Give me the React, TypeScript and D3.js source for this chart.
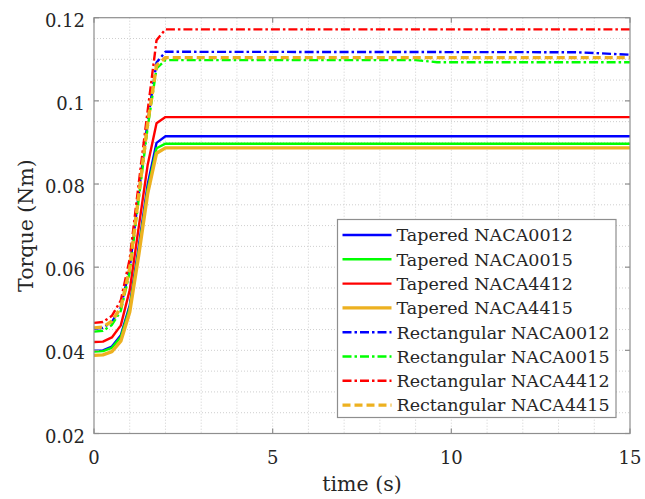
import React from "react";
import * as d3 from "d3";

const W = 645;
const H = 499;

// time samples (s)
const tRise = [0, 0.25, 0.5, 0.75, 1, 1.25, 1.5, 1.75, 2, 15];
const tRectNACA0012 = [0, 0.25, 0.5, 0.75, 1, 1.25, 1.5, 1.75, 2, 13.5, 14.5, 15];
const tRectNACA0015 = [0, 0.25, 0.5, 0.75, 1, 1.25, 1.5, 1.75, 2, 9.0, 9.6, 15];

// torque values (Nm)
const taperedNACA0012 = [0.0399, 0.04, 0.0409, 0.0436, 0.0508, 0.0648, 0.0798, 0.0899, 0.0915, 0.0915];
const taperedNACA0015 = [0.0397, 0.0398, 0.0406, 0.0432, 0.0502, 0.0638, 0.0787, 0.0886, 0.0897, 0.0897];
const taperedNACA4412 = [0.042, 0.0421, 0.0431, 0.046, 0.0545, 0.0695, 0.0845, 0.0946, 0.0961, 0.0961];
const taperedNACA4415 = [0.0388, 0.0389, 0.0397, 0.0422, 0.0492, 0.0628, 0.0776, 0.0874, 0.0887, 0.0887];
const rectNACA0012 = [0.0452, 0.0454, 0.0468, 0.0503, 0.0598, 0.0775, 0.095, 0.1092, 0.1118, 0.1117, 0.1113, 0.1111];
const rectNACA0015 = [0.0445, 0.0447, 0.0461, 0.0495, 0.0588, 0.0763, 0.0935, 0.1078, 0.1098, 0.1098, 0.1093, 0.1093];
const rectNACA4412 = [0.0466, 0.0468, 0.0483, 0.052, 0.062, 0.08, 0.0975, 0.1146, 0.1172, 0.1172];
const rectNACA4415 = [0.0454, 0.0456, 0.047, 0.0503, 0.0597, 0.0772, 0.0945, 0.1085, 0.1104, 0.1104];

const seriesNames = [
  "Tapered NACA0012",
  "Tapered NACA0015",
  "Tapered NACA4412",
  "Tapered NACA4415",
  "Rectangular NACA0012",
  "Rectangular NACA0015",
  "Rectangular NACA4412",
  "Rectangular NACA4415",
];

const xTicks = [0, 5, 10, 15];
const yTicks = [0.02, 0.04, 0.06, 0.08, 0.1, 0.12];
const yTickLabels = ["0.02", "0.04", "0.06", "0.08", "0.1", "0.12"];

const BLUE = "#0000ff";
const GREEN = "#00ff00";
const RED = "#ff0000";
const ORANGE = "#edb120";
const DASHDOT = "9,3,2.5,3";
const DASHED = "8,4";

const series = [
  { name: seriesNames[0], t: tRise, v: taperedNACA0012, color: BLUE, dash: "none", w: 2.4 },
  { name: seriesNames[1], t: tRise, v: taperedNACA0015, color: GREEN, dash: "none", w: 2.4 },
  { name: seriesNames[2], t: tRise, v: taperedNACA4412, color: RED, dash: "none", w: 2.4 },
  { name: seriesNames[3], t: tRise, v: taperedNACA4415, color: ORANGE, dash: "none", w: 3.4 },
  { name: seriesNames[4], t: tRectNACA0012, v: rectNACA0012, color: BLUE, dash: DASHDOT, w: 2.4 },
  { name: seriesNames[5], t: tRectNACA0015, v: rectNACA0015, color: GREEN, dash: DASHDOT, w: 2.4 },
  { name: seriesNames[6], t: tRise, v: rectNACA4412, color: RED, dash: DASHDOT, w: 2.4 },
  { name: seriesNames[7], t: tRise, v: rectNACA4415, color: ORANGE, dash: DASHED, w: 3.4 },
];

const FONT = "'DejaVu Serif', serif";

export default function App() {
  const left = 94;
  const right = 630;
  const top = 17.7;
  const bottom = 433.5;

  const x = d3.scaleLinear().domain([0, 15]).range([left, right]);
  const y = d3.scaleLinear().domain([0.02, 0.12]).range([bottom, top]);

  const line = d3
    .line<[number, number]>()
    .x((d) => x(d[0]))
    .y((d) => y(d[1]));

  const xMinor = d3.range(1, 15, 1);
  const yMinor = d3.range(0.025, 0.12, 0.005);

  const gridColor = "#cfcfcf";
  const axisColor = "#8e8e8e";
  const textColor = "#262626";
  const tickLen = 5;

  // legend geometry
  const lgX0 = 337.5;
  const lgX1 = 616;
  const lgY0 = 219.5;
  const lgY1 = 417.5;
  const rowY0 = 235;
  const rowStep = 24.3;

  return (
    <svg
      width={W}
      height={H}
      viewBox={`0 0 ${W} ${H}`}
      style={{ position: "absolute", left: 0, top: 0, background: "#fff" }}
    >
      <rect x={0} y={0} width={W} height={H} fill="#fff" />
      {/* grid */}
      <g stroke={gridColor} strokeWidth={1} strokeDasharray="1,2">
        {xMinor.map((t) => (
          <line key={"gx" + t} x1={x(t)} x2={x(t)} y1={top} y2={bottom} />
        ))}
        {yMinor.map((v, i) => (
          <line key={"gy" + i} x1={left} x2={right} y1={y(v)} y2={y(v)} />
        ))}
      </g>

      {/* data */}
      <g fill="none" strokeLinejoin="round">
        {series.map((s) => (
          <path
            key={s.name}
            d={line(s.t.map((t, i) => [t, s.v[i]] as [number, number])) || ""}
            stroke={s.color}
            strokeWidth={s.w}
            strokeDasharray={s.dash}
          />
        ))}
      </g>

      {/* axes box */}
      <rect
        x={left}
        y={top}
        width={right - left}
        height={bottom - top}
        fill="none"
        stroke={axisColor}
        strokeWidth={1.2}
      />
      <g stroke={axisColor} strokeWidth={1.2}>
        {xTicks.map((t) => (
          <g key={"xt" + t}>
            <line x1={x(t)} x2={x(t)} y1={bottom} y2={bottom - tickLen} />
            <line x1={x(t)} x2={x(t)} y1={top} y2={top + tickLen} />
          </g>
        ))}
        {yTicks.map((v) => (
          <g key={"yt" + v}>
            <line x1={left} x2={left + tickLen} y1={y(v)} y2={y(v)} />
            <line x1={right} x2={right - tickLen} y1={y(v)} y2={y(v)} />
          </g>
        ))}
      </g>

      {/* tick labels */}
      <g fontFamily={FONT} fontSize={18} fill={textColor}>
        {xTicks.map((t) => (
          <text key={"xl" + t} x={x(t)} y={bottom + 30} textAnchor="middle">
            {String(t)}
          </text>
        ))}
        {yTicks.map((v, i) => (
          <text key={"yl" + v} x={left - 9} y={y(v) + 9} textAnchor="end">
            {yTickLabels[i]}
          </text>
        ))}
      </g>

      {/* axis labels */}
      <text
        x={(left + right) / 2}
        y={491}
        textAnchor="middle"
        fontFamily={FONT}
        fontSize={20.5}
        fill={textColor}
      >
        time (s)
      </text>
      <text
        transform={`translate(33, ${(top + bottom) / 2}) rotate(-90)`}
        textAnchor="middle"
        fontFamily={FONT}
        fontSize={20.5}
        fill={textColor}
      >
        Torque (Nm)
      </text>

      {/* legend */}
      <rect
        x={lgX0}
        y={lgY0}
        width={lgX1 - lgX0}
        height={lgY1 - lgY0}
        fill="#fff"
        stroke={axisColor}
        strokeWidth={1.2}
      />
      {series.map((s, i) => {
        const cy = rowY0 + i * rowStep;
        return (
          <g key={"lg" + s.name}>
            <line
              x1={342.5}
              x2={391.5}
              y1={cy}
              y2={cy}
              stroke={s.color}
              strokeWidth={s.w}
              strokeDasharray={s.dash}
            />
            <text
              x={396.5}
              y={cy + 6.3}
              fontFamily={FONT}
              fontSize={17.5}
              fill={textColor}
            >
              {s.name}
            </text>
          </g>
        );
      })}
    </svg>
  );
}
